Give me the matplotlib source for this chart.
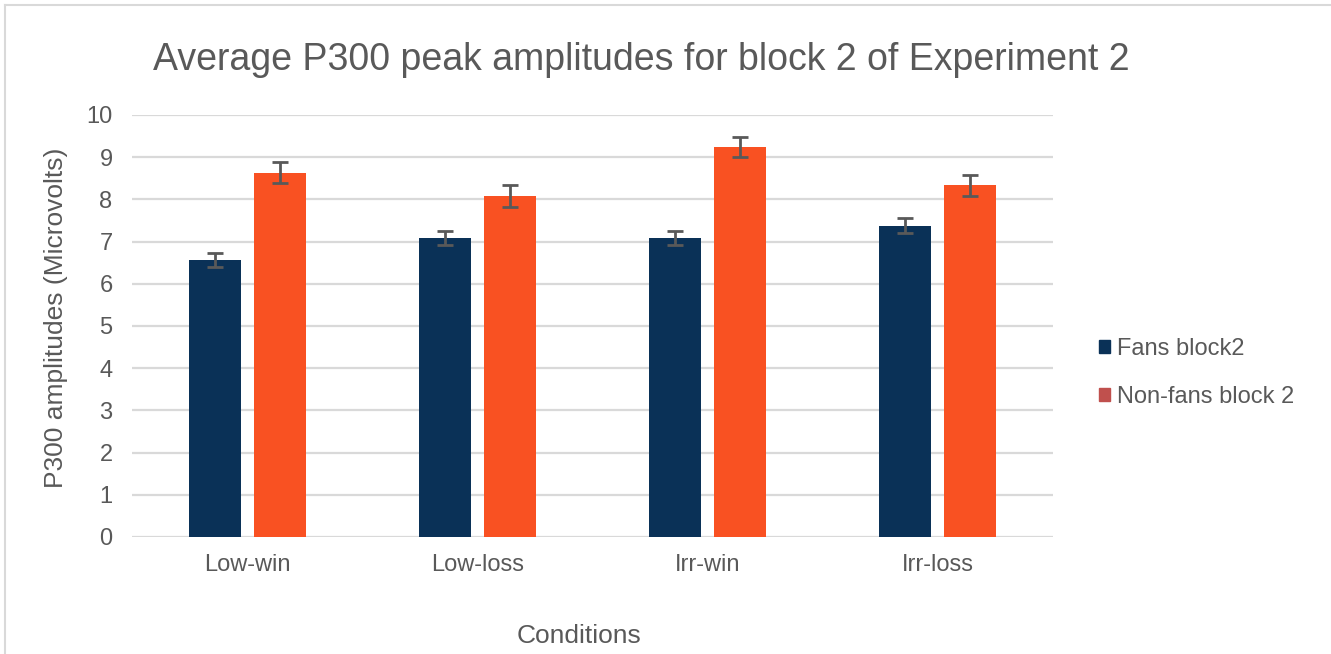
import numpy as np
import matplotlib.pyplot as plt
from matplotlib.patches import Patch
from matplotlib.lines import Line2D

plt.rcParams['font.family'] = ['Liberation Sans', 'DejaVu Sans']

conditions = ['Low-win', 'Low-loss', 'Irr-win', 'Irr-loss']
fans = [6.56, 7.08, 7.08, 7.38]
fans_err = [0.17, 0.17, 0.17, 0.17]
nonfans = [8.63, 8.08, 9.24, 8.33]
nonfans_err = [0.25, 0.25, 0.24, 0.25]
yticks = list(range(0, 11))

grey = '#595959'
fig = plt.figure(figsize=(13.31, 6.54), dpi=100)
ax = fig.add_axes([0.0992, 0.1789, 0.6919, 0.6453])

x = np.arange(len(conditions))
w = 0.226
ax.bar(x - 0.141, fans, w, color='#0a3157', zorder=3)
ax.bar(x + 0.141, nonfans, w, color='#f95122', zorder=3)
ax.errorbar(x - 0.141, fans, yerr=fans_err, fmt='none', ecolor=grey,
            elinewidth=2, capsize=5.5, capthick=2, zorder=4)
ax.errorbar(x + 0.141, nonfans, yerr=nonfans_err, fmt='none', ecolor=grey,
            elinewidth=2, capsize=5.5, capthick=2, zorder=4)

ax.set_xlim(-0.5, 3.5)
ax.set_ylim(0, 10)
ax.set_yticks(yticks)
ax.set_xticks(x)
ax.set_xticklabels(conditions)
ax.yaxis.grid(True, color='#d9d9d9', linewidth=1.6, zorder=0)
for s in ax.spines.values():
    s.set_visible(False)
ax.tick_params(axis='both', length=0, labelsize=17, labelcolor=grey)
ax.tick_params(axis='y', pad=14)
ax.tick_params(axis='x', pad=12)
ax.set_ylabel('P300 amplitudes (Microvolts)', fontsize=19, color=grey)
ax.yaxis.set_label_coords(-0.069, 0.519)
ax.set_xlabel('Conditions', fontsize=19, color=grey)
ax.xaxis.set_label_coords(0.485, -0.206)

fig.text(0.482, 0.908, 'Average P300 peak amplitudes for block 2 of Experiment 2',
         ha='center', va='center', fontsize=27, color=grey)

handles = [Patch(color='#0a3157', label='Fans block2'),
           Patch(color='#c0504d', label='Non-fans block 2')]
leg = fig.legend(handles=handles, loc='center left', bbox_to_anchor=(0.81, 0.43),
                 frameon=False, fontsize=17, handlelength=0.45, handleheight=0.45,
                 handletextpad=0.3, labelspacing=1.1, labelcolor=grey)

# light frame on top and left edges
fig.add_artist(Line2D([0.004, 0.004], [0, 0.992], transform=fig.transFigure,
                      color='#d9d9d9', linewidth=1.5))
fig.add_artist(Line2D([0.004, 1], [0.992, 0.992], transform=fig.transFigure,
                      color='#d9d9d9', linewidth=1.5))

fig.savefig('out.png', dpi=100)
